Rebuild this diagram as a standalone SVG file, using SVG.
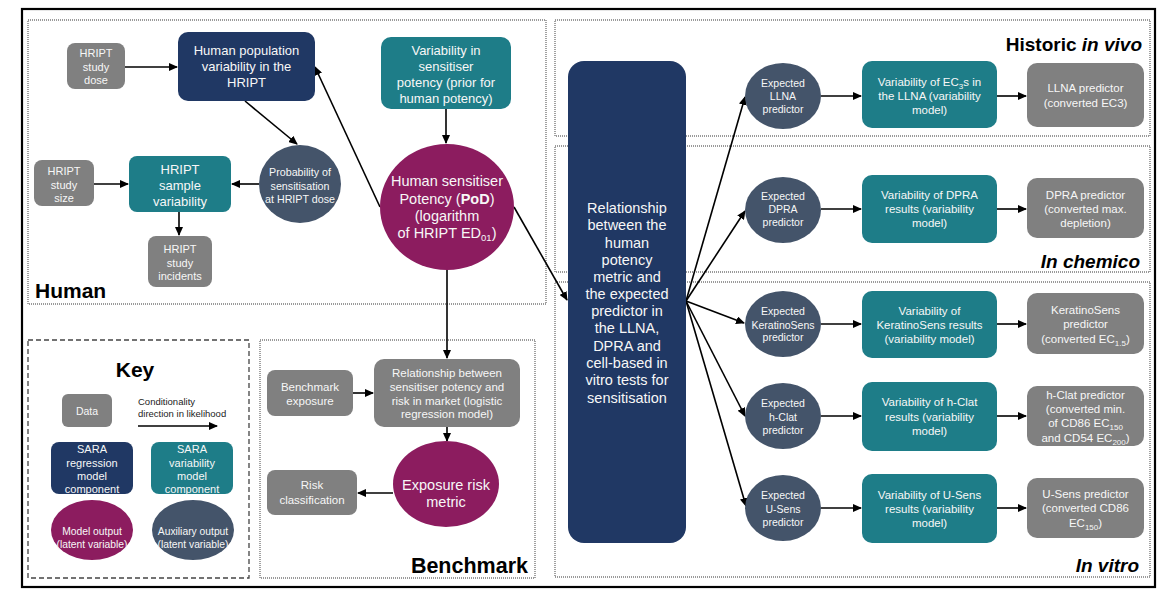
<svg xmlns="http://www.w3.org/2000/svg" width="1167" height="589" viewBox="0 0 1167 589">
<style>
text{font-family:"Liberation Sans",Arial,sans-serif;}
.w{fill:#f7f7f7;text-anchor:middle;}
.navy{fill:#203864;}
.teal{fill:#1e7d88;}
.gray{fill:#808080;}
.slate{fill:#44546a;}
.mag{fill:#8c1c5f;}
.panel{fill:none;stroke:#7a7a7a;stroke-width:1.4;stroke-dasharray:1 1;}
.keyp{fill:none;stroke:#444;stroke-width:1.3;stroke-dasharray:5 3;}
.edge{stroke:#000;stroke-width:1.6;fill:none;marker-end:url(#ah);}
.title{font-weight:bold;fill:#000;}
.f10{font-size:10.5px;}
.f11{font-size:11px;}
.f115{font-size:11.5px;}
.f13{font-size:13px;}
.f145{font-size:14.5px;}
</style>
<defs>
<marker id="ah" markerUnits="userSpaceOnUse" markerWidth="9" markerHeight="8" refX="8" refY="4" orient="auto">
<path d="M0,0 L9,4 L0,8 z" fill="#000"/>
</marker>
</defs>
<rect x="0" y="0" width="1167" height="589" fill="#fff"/>
<rect x="22" y="9" width="1133" height="578" fill="none" stroke="#000" stroke-width="2.2"/>

<g id="panels">
<rect class="panel" x="28" y="20" width="518" height="284"/>
<rect class="keyp" x="28" y="340" width="221" height="238"/>
<rect class="panel" x="260" y="340" width="275" height="238"/>
<rect class="panel" x="555" y="20" width="595" height="116"/>
<rect class="panel" x="555" y="146" width="595" height="126"/>
<rect class="panel" x="555" y="282" width="595" height="295"/>
<text class="title" x="35" y="298" font-size="21">Human</text>
<text class="title" x="135" y="377" font-size="21" text-anchor="middle">Key</text>
<text class="title" x="528" y="573" font-size="21.5" text-anchor="end">Benchmark</text>
<text class="title" x="1142" y="51" font-size="19" text-anchor="end">Historic <tspan font-style="italic">in vivo</tspan></text>
<text class="title" x="1140" y="268" font-size="19" text-anchor="end" font-style="italic">In chemico</text>
<text class="title" x="1139" y="572" font-size="19" text-anchor="end" font-style="italic">In vitro</text>
</g>

<g id="connectors">
<line class="edge" x1="125" y1="67" x2="177" y2="67"/>
<line class="edge" x1="245" y1="101" x2="297" y2="144"/>
<line class="edge" x1="380" y1="207" x2="315" y2="67"/>
<line class="edge" x1="446" y1="109" x2="446" y2="143"/>
<line class="edge" x1="259" y1="184" x2="232" y2="184"/>
<line class="edge" x1="94" y1="184" x2="128" y2="184"/>
<line class="edge" x1="179" y1="212" x2="179" y2="235"/>
<line class="edge" x1="447" y1="270" x2="447" y2="358"/>
<line class="edge" x1="514" y1="207" x2="567" y2="300"/>
<line class="edge" x1="353" y1="393" x2="373" y2="393"/>
<line class="edge" x1="447" y1="427" x2="447" y2="441"/>
<line class="edge" x1="393" y1="493" x2="358" y2="493"/>
<line class="edge" x1="138" y1="426" x2="217" y2="426"/>
<line class="edge" x1="686" y1="301" x2="745" y2="97"/>
<line class="edge" x1="686" y1="301" x2="745" y2="211"/>
<line class="edge" x1="686" y1="301" x2="744" y2="323"/>
<line class="edge" x1="686" y1="301" x2="745" y2="416"/>
<line class="edge" x1="686" y1="301" x2="746" y2="506"/>
<line class="edge" x1="821" y1="96" x2="861" y2="96"/>
<line class="edge" x1="997" y1="96" x2="1026" y2="96"/>
<line class="edge" x1="821" y1="209" x2="861" y2="209"/>
<line class="edge" x1="997" y1="209" x2="1026" y2="209"/>
<line class="edge" x1="821" y1="324" x2="861" y2="324"/>
<line class="edge" x1="997" y1="324" x2="1026" y2="324"/>
<line class="edge" x1="821" y1="416" x2="861" y2="416"/>
<line class="edge" x1="997" y1="416" x2="1026" y2="416"/>
<line class="edge" x1="821" y1="508" x2="861" y2="508"/>
<line class="edge" x1="997" y1="508" x2="1026" y2="508"/>
</g>

<g id="hript-dose">
<rect class="gray" x="67" y="43" width="58" height="46" rx="8"/>
<text class="w f11" x="96" y="57">HRIPT</text>
<text class="w f11" x="96" y="71">study</text>
<text class="w f11" x="96" y="84">dose</text>
</g>
<g id="pop-var">
<rect class="navy" x="178" y="32" width="137" height="69" rx="10"/>
<text class="w f13" x="246.5" y="55">Human population</text>
<text class="w f13" x="246.5" y="71">variability in the</text>
<text class="w f13" x="246.5" y="87">HRIPT</text>
</g>
<g id="var-sens">
<rect class="teal" x="381" y="37" width="130" height="72" rx="10"/>
<text class="w f13" x="446" y="54.5">Variability in</text>
<text class="w f13" x="446" y="70.5">sensitiser</text>
<text class="w f13" x="446" y="86.5">potency (prior for</text>
<text class="w f13" x="446" y="102.5">human potency)</text>
</g>
<g id="hript-size">
<rect class="gray" x="34" y="160" width="60" height="46" rx="8"/>
<text class="w f11" x="64" y="175">HRIPT</text>
<text class="w f11" x="64" y="189">study</text>
<text class="w f11" x="64" y="202">size</text>
</g>
<g id="sample-var">
<rect class="teal" x="129" y="156" width="102" height="56" rx="8"/>
<text class="w f13" x="180" y="173.5">HRIPT</text>
<text class="w f13" x="180" y="189.5">sample</text>
<text class="w f13" x="180" y="205.5">variability</text>
</g>
<g id="prob">
<ellipse class="slate" cx="300" cy="184" rx="41" ry="39"/>
<text class="w" font-size="10.7" x="300" y="176">Probability of</text>
<text class="w" font-size="10.7" x="300" y="190">sensitisation</text>
<text class="w" font-size="10.7" x="300" y="203">at HRIPT dose</text>
</g>
<g id="incidents">
<rect class="gray" x="148" y="236" width="64" height="51" rx="8"/>
<text class="w f11" x="180" y="253">HRIPT</text>
<text class="w f11" x="180" y="267">study</text>
<text class="w f11" x="180" y="280">incidents</text>
</g>
<g id="pod">
<ellipse class="mag" cx="447" cy="207" rx="67" ry="63"/>
<text class="w f145" x="447" y="186">Human sensitiser</text>
<text class="w f145" x="447" y="203.5">Potency (<tspan font-weight="bold">PoD</tspan>)</text>
<text class="w f145" x="447" y="221">(logarithm</text>
<text class="w f145" x="447" y="238">of HRIPT ED<tspan font-size="9.5" dy="3">01</tspan><tspan dy="-3">)</tspan></text>
</g>

<g id="bench-exposure">
<rect class="gray" x="267" y="370" width="86" height="46" rx="8"/>
<text class="w f115" x="310" y="391">Benchmark</text>
<text class="w f115" x="310" y="405">exposure</text>
</g>
<g id="bench-rel">
<rect class="gray" x="374" y="359" width="146" height="68" rx="10"/>
<text class="w f115" x="447" y="377">Relationship between</text>
<text class="w f115" x="447" y="391">sensitiser potency and</text>
<text class="w f115" x="447" y="405">risk in market (logistic</text>
<text class="w f115" x="447" y="418">regression model)</text>
</g>
<g id="exposure-risk">
<ellipse class="mag" cx="446" cy="484" rx="53" ry="43"/>
<text class="w f145" x="446" y="490">Exposure risk</text>
<text class="w f145" x="446" y="507">metric</text>
</g>
<g id="risk-class">
<rect class="gray" x="267" y="470" width="90" height="45" rx="8"/>
<text class="w f115" x="312" y="489">Risk</text>
<text class="w f115" x="312" y="504">classification</text>
</g>

<g id="key-data">
<rect class="gray" x="62" y="394" width="50" height="33" rx="6"/>
<text class="w f10" x="87" y="414.5">Data</text>
</g>
<g id="key-arrow-label">
<text x="138" y="405" font-size="9.5" fill="#222">Conditionality</text>
<text x="138" y="417" font-size="9.5" fill="#222">direction in likelihood</text>
</g>
<g id="key-reg">
<rect class="navy" x="51" y="442" width="82" height="52" rx="8"/>
<text class="w f11" x="92" y="453">SARA</text>
<text class="w f11" x="92" y="466.5">regression</text>
<text class="w f11" x="92" y="480">model</text>
<text class="w f11" x="92" y="493">component</text>
</g>
<g id="key-var">
<rect class="teal" x="151" y="442" width="82" height="52" rx="8"/>
<text class="w f11" x="192" y="453">SARA</text>
<text class="w f11" x="192" y="466.5">variability</text>
<text class="w f11" x="192" y="480">model</text>
<text class="w f11" x="192" y="493">component</text>
</g>
<g id="key-model-output">
<ellipse class="mag" cx="92" cy="530" rx="41" ry="30"/>
<text class="w" font-size="10.3" x="92" y="535">Model output</text>
<text class="w" font-size="10.3" x="92" y="548">(latent variable)</text>
</g>
<g id="key-aux-output">
<ellipse class="slate" cx="193" cy="530" rx="41" ry="30"/>
<text class="w" font-size="10.3" x="193" y="535">Auxiliary output</text>
<text class="w" font-size="10.3" x="193" y="548">(latent variable)</text>
</g>

<g id="relationship">
<rect class="navy" x="568" y="61" width="118" height="482" rx="16"/>
<text class="w f145" x="627" y="213">Relationship</text>
<text class="w f145" x="627" y="230">between the</text>
<text class="w f145" x="627" y="247.5">human</text>
<text class="w f145" x="627" y="264.5">potency</text>
<text class="w f145" x="627" y="281.5">metric and</text>
<text class="w f145" x="627" y="298.5">the expected</text>
<text class="w f145" x="627" y="316">predictor in</text>
<text class="w f145" x="627" y="333">the LLNA,</text>
<text class="w f145" x="627" y="350.5">DPRA and</text>
<text class="w f145" x="627" y="368">cell-based in</text>
<text class="w f145" x="627" y="385">vitro tests for</text>
<text class="w f145" x="627" y="402.5">sensitisation</text>
</g>

<g id="exp-llna">
<ellipse class="slate" cx="783" cy="96" rx="38" ry="33"/>
<text class="w f10" x="783" y="86.5">Expected</text>
<text class="w f10" x="783" y="99.5">LLNA</text>
<text class="w f10" x="783" y="112.5">predictor</text>
</g>
<g id="var-llna">
<rect class="teal" x="862" y="61" width="135" height="67" rx="10"/>
<text class="w f115" x="929.5" y="86">Variability of EC<tspan font-size="8" dy="2.5">3</tspan><tspan dy="-2.5">s in</tspan></text>
<text class="w f115" x="929.5" y="100">the LLNA (variability</text>
<text class="w f115" x="929.5" y="114">model)</text>
</g>
<g id="pred-llna">
<rect class="gray" x="1027" y="63" width="117" height="64" rx="10"/>
<text class="w f115" x="1085.5" y="92">LLNA predictor</text>
<text class="w f115" x="1085.5" y="107">(converted EC3)</text>
</g>

<g id="exp-dpra">
<ellipse class="slate" cx="783" cy="210" rx="38" ry="33"/>
<text class="w f10" x="783" y="200">Expected</text>
<text class="w f10" x="783" y="213">DPRA</text>
<text class="w f10" x="783" y="226">predictor</text>
</g>
<g id="var-dpra">
<rect class="teal" x="862" y="175" width="135" height="68" rx="10"/>
<text class="w f115" x="929.5" y="199">Variability of DPRA</text>
<text class="w f115" x="929.5" y="213">results (variability</text>
<text class="w f115" x="929.5" y="227">model)</text>
</g>
<g id="pred-dpra">
<rect class="gray" x="1027" y="178" width="117" height="60" rx="10"/>
<text class="w f115" x="1085.5" y="199">DPRA predictor</text>
<text class="w f115" x="1085.5" y="213">(converted max.</text>
<text class="w f115" x="1085.5" y="227">depletion)</text>
</g>

<g id="exp-ks">
<ellipse class="slate" cx="783" cy="324" rx="38" ry="33"/>
<text class="w f10" x="783" y="315">Expected</text>
<text class="w f10" x="783" y="328.5">KeratinoSens</text>
<text class="w f10" x="783" y="341">predictor</text>
</g>
<g id="var-ks">
<rect class="teal" x="862" y="291" width="135" height="67" rx="10"/>
<text class="w f115" x="929.5" y="315">Variability of</text>
<text class="w f115" x="929.5" y="329">KeratinoSens results</text>
<text class="w f115" x="929.5" y="343">(variability model)</text>
</g>
<g id="pred-ks">
<rect class="gray" x="1027" y="293" width="117" height="61" rx="10"/>
<text class="w f115" x="1085.5" y="314">KeratinoSens</text>
<text class="w f115" x="1085.5" y="328">predictor</text>
<text class="w f115" x="1085.5" y="343">(converted EC<tspan font-size="8" dy="2.5">1.5</tspan><tspan dy="-2.5">)</tspan></text>
</g>

<g id="exp-hclat">
<ellipse class="slate" cx="783" cy="416" rx="38" ry="33"/>
<text class="w f10" x="783" y="407">Expected</text>
<text class="w f10" x="783" y="420.5">h-Clat</text>
<text class="w f10" x="783" y="434">predictor</text>
</g>
<g id="var-hclat">
<rect class="teal" x="862" y="382" width="135" height="69" rx="10"/>
<text class="w f115" x="929.5" y="406">Variability of h-Clat</text>
<text class="w f115" x="929.5" y="421">results (variability</text>
<text class="w f115" x="929.5" y="435">model)</text>
</g>
<g id="pred-hclat">
<rect class="gray" x="1027" y="386" width="117" height="60" rx="10"/>
<text class="w f115" x="1085.5" y="399">h-Clat predictor</text>
<text class="w f115" x="1085.5" y="413">(converted min.</text>
<text class="w f115" x="1085.5" y="427">of CD86 EC<tspan font-size="8" dy="2.5">150</tspan></text>
<text class="w f115" x="1085.5" y="442">and CD54 EC<tspan font-size="8" dy="2.5">200</tspan><tspan dy="-2.5">)</tspan></text>
</g>

<g id="exp-usens">
<ellipse class="slate" cx="783" cy="508" rx="38" ry="33"/>
<text class="w f10" x="783" y="499">Expected</text>
<text class="w f10" x="783" y="512.5">U-Sens</text>
<text class="w f10" x="783" y="526">predictor</text>
</g>
<g id="var-usens">
<rect class="teal" x="862" y="474" width="135" height="69" rx="10"/>
<text class="w f115" x="929.5" y="499">Variability of U-Sens</text>
<text class="w f115" x="929.5" y="513">results (variability</text>
<text class="w f115" x="929.5" y="527">model)</text>
</g>
<g id="pred-usens">
<rect class="gray" x="1027" y="478" width="117" height="60" rx="10"/>
<text class="w f115" x="1085.5" y="498">U-Sens predictor</text>
<text class="w f115" x="1085.5" y="512">(converted CD86</text>
<text class="w f115" x="1085.5" y="527">EC<tspan font-size="8" dy="2.5">150</tspan><tspan dy="-2.5">)</tspan></text>
</g>
</svg>
